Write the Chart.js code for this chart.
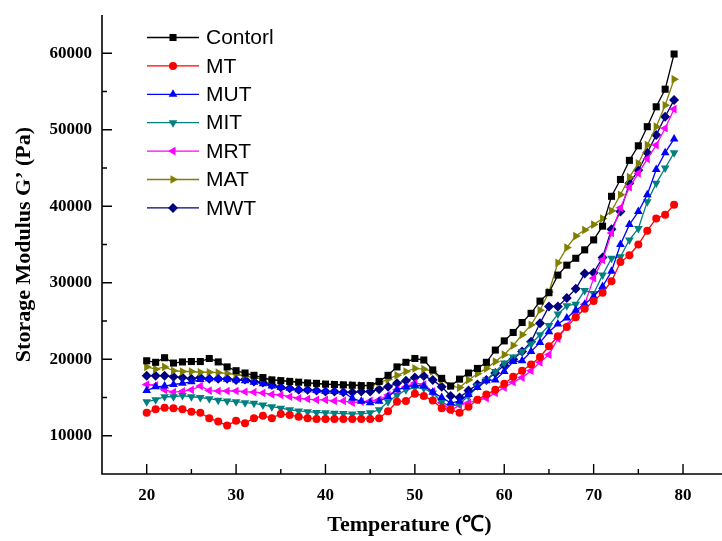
<!DOCTYPE html>
<html>
<head>
<meta charset="utf-8">
<script src="https://cdn.jsdelivr.net/npm/chart.js@4.4.1/dist/chart.umd.min.js"></script>
<style>
  html, body { margin: 0; padding: 0; background: #fff; }
  #wrap { width: 722px; height: 541px; }
</style>
</head>
<body>
<div id="wrap"><canvas id="myChart" width="722" height="541"></canvas></div>
<script>
// temperature, deg C
const temps = []
for (let t = 20; t <= 79; t++) temps.push(t)

const xTicks = [20, 30, 40, 50, 60, 70, 80]
const xMinor = [25, 35, 45, 55, 65, 75]
const yTicks = [10000, 20000, 30000, 40000, 50000, 60000]
const yMinor = [15000, 25000, 35000, 45000, 55000]

// storage modulus values (Pa)
const contorl = [19800,19600,20200,19500,19650,19700,19700,20100,19650,19000,
  18500,18200,17900,17600,17300,17200,17100,17000,16900,16850,
  16750,16700,16650,16600,16550,16550,17100,17900,19000,19600,
  20100,19900,18600,17500,16500,17400,18200,18800,19600,21200,
  22400,23500,24800,26000,27600,28700,31000,32300,33200,34300,
  35600,37400,41300,43500,46000,47900,50400,53000,55300,59900]
const mt = [13000,13450,13650,13600,13450,13150,13000,12300,11850,11350,
  11950,11650,12300,12600,12300,12850,12700,12500,12300,12200,
  12200,12200,12200,12200,12200,12200,12300,13200,14450,14550,
  15500,15200,14600,13600,13400,13000,13800,14700,15400,16000,
  16800,17700,18500,19300,20300,21700,23000,24200,25500,26600,
  27600,28700,30200,32700,33600,35000,36800,38400,38900,40200]
const mut = [15900,16400,16500,16700,16850,17050,17350,17450,17450,17400,
  17300,17200,17000,16800,16500,16300,16200,16000,16000,15900,
  15800,15800,15700,14900,14500,14300,14500,15100,16000,16400,
  16600,16500,15700,15000,14300,14500,15400,16300,17200,17300,
  18400,19700,19800,21000,22200,23600,24600,25400,26400,27200,
  28200,29500,31500,35000,37600,39300,41500,44800,47000,48800]
const mit = [14450,14700,15100,15100,15250,15100,15000,14850,14650,14550,
  14450,14330,14240,14030,13800,13600,13400,13250,13150,13050,
  13000,12950,12900,12850,12900,13000,13400,14450,15300,16000,
  16300,16200,15600,14400,13800,14200,15200,16500,17300,18400,
  19500,20300,21000,22000,23200,24400,25900,27000,27200,29000,
  28600,31000,33200,33400,35600,37100,40600,43000,45000,47000]
const mrt = [16700,16600,16000,15700,15800,16000,16500,15900,15850,15850,
  15850,15750,15700,15600,15400,15330,15100,14900,14800,14700,
  14700,14550,14550,14330,14450,14550,14700,15330,16000,16400,
  16900,16700,15800,14300,13300,14000,14300,14700,14900,15600,
  16300,17000,17600,18500,19600,20600,22700,24400,26000,27200,
  30600,33000,36500,39800,42500,44300,46200,48000,50200,52700]
const mat = [19000,18700,19000,18500,18400,18400,18300,18300,18250,18150,
  18000,17800,17600,17400,17300,17200,17100,16950,16860,16800,
  16730,16700,16650,16640,16600,16550,16900,17400,17900,18400,
  18800,18700,18400,17300,16500,16300,17300,18100,18800,19700,
  20600,21800,23200,24500,26400,28800,32600,34600,36100,36900,
  37600,38400,39400,41500,43800,45600,48000,50400,53200,56600]
const mwt = [17850,17850,17850,17700,17600,17450,17600,17450,17450,17450,
  17300,17350,17100,16950,16650,16350,16200,16000,16000,15900,
  15770,15770,15680,15680,15770,15770,16070,16420,16860,17200,
  17600,17800,17300,16400,15200,15000,15900,16700,17300,18200,
  19200,20000,21000,22300,24700,26900,26900,28000,29200,31200,
  31300,33300,37000,39300,43000,44700,47000,49300,51700,53900]

function series(label, data, color, style, rot, r) {
  return {
    label: label,
    data: data.map((v, i) => ({x: temps[i], y: v})),
    borderColor: color,
    backgroundColor: color,
    borderWidth: 1.3,
    pointStyle: style,
    pointRotation: rot,
    pointRadius: r,
    pointBorderWidth: 0,
    pointHoverRadius: r,
    tension: 0
  }
}

const sets = [
  series('Contorl', contorl, '#000000', 'rect', 0, 5),
  series('MT', mt, '#ff0000', 'circle', 0, 4),
  series('MUT', mut, '#0000ff', 'triangle', 0, 5),
  series('MIT', mit, '#008080', 'triangle', 180, 5),
  series('MRT', mrt, '#ff00ff', 'triangle', 270, 5),
  series('MAT', mat, '#808000', 'triangle', 90, 5),
  series('MWT', mwt, '#000080', 'rectRot', 0, 5)
]

// axis lines and inward ticks
const axisTicks = {
  id: 'axisTicks',
  afterDraw(chart) {
    const ctx = chart.ctx
    const a = chart.chartArea
    const x = chart.scales.x, y = chart.scales.y
    ctx.save()
    ctx.strokeStyle = '#000'
    ctx.lineWidth = 1.6
    ctx.beginPath()
    ctx.moveTo(a.left, a.top)
    ctx.lineTo(a.left, a.bottom)
    ctx.lineTo(chart.width, a.bottom)
    ctx.stroke()
    ctx.lineWidth = 1.4
    ctx.beginPath()
    xTicks.forEach(v => { const p = x.getPixelForValue(v); ctx.moveTo(p, a.bottom); ctx.lineTo(p, a.bottom - 10) })
    xMinor.forEach(v => { const p = x.getPixelForValue(v); ctx.moveTo(p, a.bottom); ctx.lineTo(p, a.bottom - 5) })
    yTicks.forEach(v => { const p = y.getPixelForValue(v); ctx.moveTo(a.left, p); ctx.lineTo(a.left + 10, p) })
    yMinor.forEach(v => { const p = y.getPixelForValue(v); ctx.moveTo(a.left, p); ctx.lineTo(a.left + 5, p) })
    ctx.stroke()
    ctx.restore()
  }
}

// legend in the upper left corner of the plot
const cornerLegend = {
  id: 'cornerLegend',
  afterDraw(chart) {
    const ctx = chart.ctx
    ctx.save()
    ctx.font = '21px "Liberation Sans", Arial, sans-serif'
    ctx.textBaseline = 'middle'
    chart.data.datasets.forEach((ds, i) => {
      const yy = 37.5 + i * 28.4
      ctx.strokeStyle = ds.borderColor
      ctx.fillStyle = ds.borderColor
      ctx.lineWidth = 1.3
      ctx.beginPath()
      ctx.moveTo(147, yy)
      ctx.lineTo(199, yy)
      ctx.stroke()
      Chart.helpers.drawPoint(ctx, {pointStyle: ds.pointStyle, radius: ds.pointRadius, rotation: ds.pointRotation, borderWidth: 0}, 173, yy)
      ctx.fillStyle = '#000'
      ctx.fillText(ds.label, 206, yy + 1)
    })
    ctx.restore()
  }
}

const tickFont = {family: '"Liberation Serif", "Times New Roman", serif', size: 17, weight: 'bold'}
const titleFont = {family: '"Liberation Serif", "Times New Roman", serif', size: 22, weight: 'bold'}

const chart = new Chart(document.getElementById('myChart'), {
  type: 'line',
  data: { datasets: sets },
  options: {
    responsive: false,
    animation: false,
    layout: { padding: { top: 15, right: 0, left: 0, bottom: 0 } },
    plugins: { legend: { display: false }, tooltip: { enabled: false } },
    scales: {
      x: {
        type: 'linear',
        min: 15,
        max: 83.8,
        afterFit: s => { s.height = 67; s.paddingLeft = 0; s.paddingRight = 0 },
        afterBuildTicks: s => { s.ticks = xTicks.map(v => ({value: v})) },
        grid: { display: false, drawTicks: false },
        border: { display: false },
        ticks: { color: '#000', font: tickFont, padding: 11, maxRotation: 0, callback: v => String(v) },
        title: { display: true, text: 'Temperature (℃)', color: '#000', font: titleFont, padding: { top: 0, bottom: 2 } }
      },
      y: {
        min: 5000,
        max: 65000,
        afterFit: s => { s.width = 102; s.paddingTop = 0; s.paddingBottom = 0 },
        afterBuildTicks: s => { s.ticks = yTicks.map(v => ({value: v})) },
        grid: { display: false, drawTicks: false },
        border: { display: false },
        ticks: { color: '#000', font: tickFont, padding: 10, callback: v => String(v) },
        title: { display: true, text: 'Storage Modulus G\u2019 (Pa)', color: '#000', font: titleFont, padding: { top: 11, bottom: 0 } }
      }
    }
  },
  plugins: [axisTicks, cornerLegend]
})
</script>
</body>
</html>
